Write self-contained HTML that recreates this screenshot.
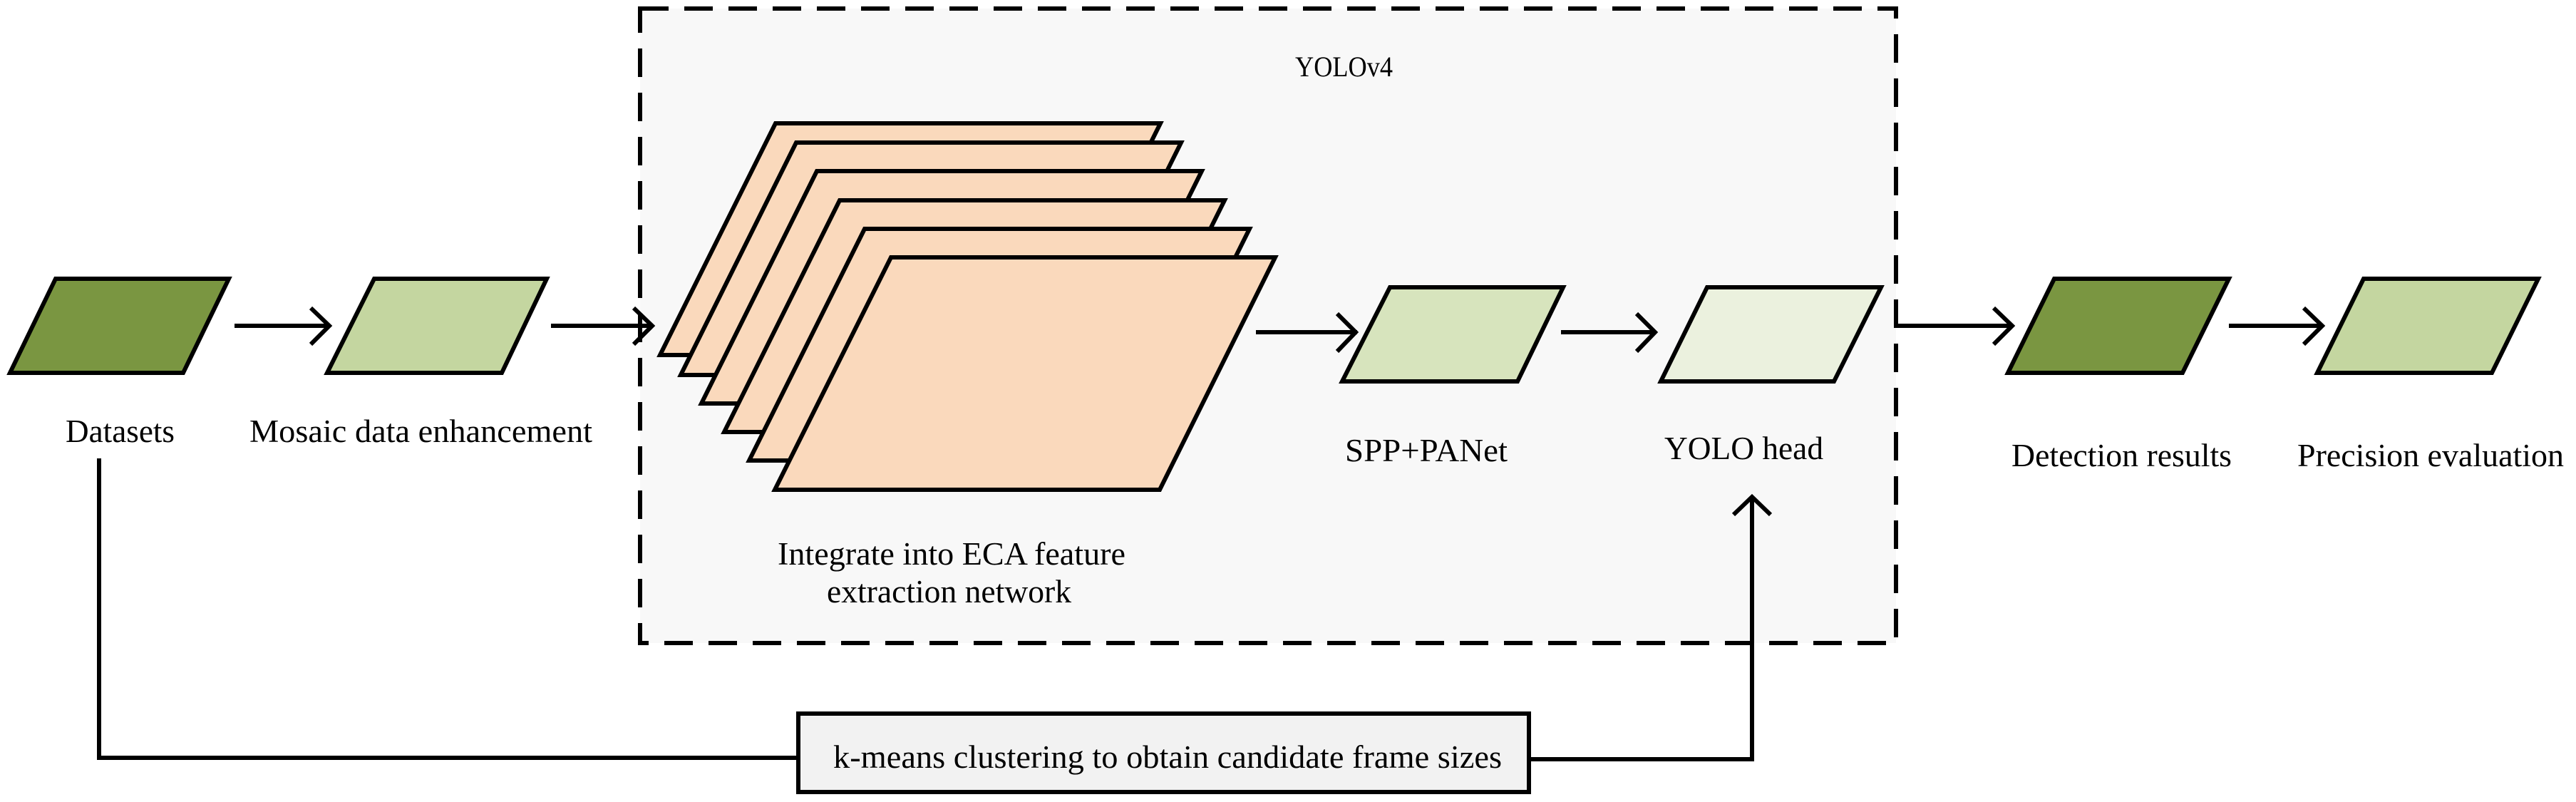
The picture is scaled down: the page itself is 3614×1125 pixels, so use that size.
<!DOCTYPE html>
<html><head><meta charset="utf-8"><style>
html,body{margin:0;padding:0;background:#fff;}
svg{display:block;}
text{font-family:"Liberation Serif",serif;fill:#000;}
</style></head><body>
<svg width="3614" height="1125" viewBox="0 0 3614 1125" xmlns="http://www.w3.org/2000/svg">
<rect x="898" y="12" width="1762" height="890" fill="#f8f8f8" stroke="#000" stroke-width="6" stroke-dasharray="40 22"/>
<text x="1817" y="107" font-size="40" textLength="137" lengthAdjust="spacingAndGlyphs">YOLOv4</text>

<g stroke="#000" stroke-width="6" stroke-linejoin="miter" fill="none">
<polygon points="78,391 321,391 257,523 14,523" fill="#7a9641"/>
<polygon points="525,391 767,391 704,523 459,523" fill="#c4d6a0"/>
<polygon points="1088,173 1628,173 1466,498 926,498" fill="#fad9bc"/>
<polygon points="1117,200 1657,200 1495,526 955,526" fill="#fad9bc"/>
<polygon points="1146,240 1686,240 1524,566 984,566" fill="#fad9bc"/>
<polygon points="1178,281 1718,281 1556,606 1016,606" fill="#fad9bc"/>
<polygon points="1213,321 1753,321 1591,646 1051,646" fill="#fad9bc"/>
<polygon points="1250,361 1789,361 1627,687 1087,687" fill="#fad9bc"/>
<polygon points="1950,403 2193,403 2129,535 1883,535" fill="#d7e4bd"/>
<polygon points="2395,403 2639,403 2573,535 2330,535" fill="#ebf1de"/>
<polygon points="2882,391 3127,391 3062,523 2817,523" fill="#7a9641"/>
<polygon points="3316,391 3561,391 3496,523 3251,523" fill="#c4d6a0"/>

<line x1="329" y1="457" x2="462" y2="457"/><polyline points="436,432 462,457 436,483"/>
<line x1="773" y1="457" x2="913" y2="457"/><polyline points="889,432 915,457 889,483"/>
<line x1="1762" y1="466" x2="1904" y2="466"/><polyline points="1876,440 1902,466 1876,493"/>
<line x1="2190" y1="466" x2="2323" y2="466"/><polyline points="2296,440 2322,466 2296,493"/>
<line x1="2660" y1="457" x2="2824" y2="457"/><polyline points="2797,432 2823,457 2797,483"/>
<line x1="3127" y1="457" x2="3258" y2="457"/><polyline points="3232,432 3258,457 3232,483"/>
<polyline points="139,643 139,1063 1120,1063"/>
<polyline points="2145,1065 2458,1065 2458,698"/>
<polyline points="2432,722 2458,697 2484,722"/>
<rect x="1120" y="1001" width="1025" height="110" fill="#f2f2f2"/>
</g>

<text x="92" y="620" font-size="45" textLength="153" lengthAdjust="spacingAndGlyphs">Datasets</text>
<text x="350" y="620" font-size="45" textLength="481" lengthAdjust="spacingAndGlyphs">Mosaic  data enhancement</text>
<text x="1091" y="792" font-size="45" textLength="488" lengthAdjust="spacingAndGlyphs">Integrate into ECA feature</text>
<text x="1160" y="845" font-size="45" textLength="343" lengthAdjust="spacingAndGlyphs">extraction network</text>
<text x="1887" y="647" font-size="46" textLength="228" lengthAdjust="spacingAndGlyphs">SPP+PANet</text>
<text x="2335" y="644" font-size="46" textLength="223" lengthAdjust="spacingAndGlyphs">YOLO head</text>
<text x="2822" y="654" font-size="45" textLength="309" lengthAdjust="spacingAndGlyphs">Detection results</text>
<text x="3223" y="654" font-size="45" textLength="374" lengthAdjust="spacingAndGlyphs">Precision evaluation</text>
<text x="1169" y="1077" font-size="45" textLength="938" lengthAdjust="spacingAndGlyphs">k-means clustering to obtain candidate frame sizes</text>
</svg>
</body></html>
